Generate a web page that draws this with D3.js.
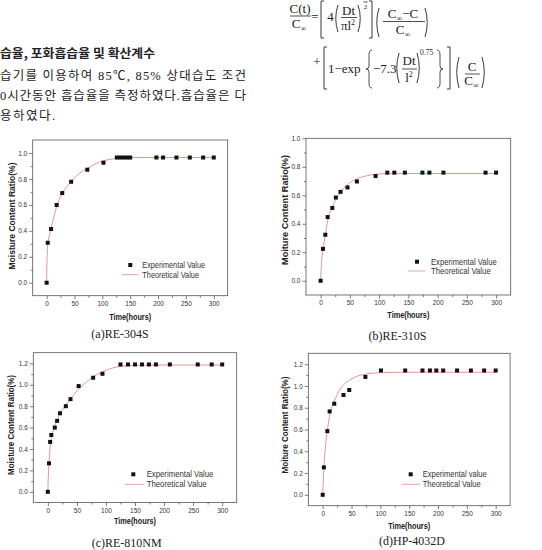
<!DOCTYPE html>
<html>
<head>
<meta charset="utf-8">
<script src="https://cdn.jsdelivr.net/npm/d3@7"></script>
<style>
  body { margin: 0; background: #fff; }
  svg { display: block; }
</style>
</head>
<body>
<svg id="page" width="542" height="550"></svg>
<script>
var timesA  = [0, 2, 8, 18, 28, 44, 73, 102, 126, 132, 138, 144, 150, 197, 209, 233, 257, 281, 300];
var valuesA = [0, 0.308, 0.414, 0.599, 0.691, 0.778, 0.871, 0.925, 0.965, 0.965, 0.965, 0.965, 0.965, 0.965, 0.965, 0.965, 0.965, 0.965, 0.965];
var curveTA = [0, 0.5, 1, 2, 4, 8, 12, 18, 28, 36, 44, 55, 73, 90, 102, 120, 140, 160, 300];
var curveVA = [0, 0.15, 0.21, 0.3, 0.345, 0.42, 0.49, 0.585, 0.69, 0.74, 0.78, 0.83, 0.88, 0.92, 0.94, 0.955, 0.962, 0.965, 0.965];

var timesB  = [0, 4, 8, 12, 20, 26, 34, 46, 62, 94, 114, 126, 144, 174, 186, 210, 282, 300];
var valuesB = [0, 0.224, 0.323, 0.447, 0.511, 0.584, 0.624, 0.655, 0.697, 0.735, 0.759, 0.759, 0.759, 0.759, 0.759, 0.759, 0.759, 0.759];
var curveTB = [0, 1, 2, 4, 8, 12, 20, 26, 34, 46, 62, 80, 95, 115, 150, 300];
var curveVB = [0, 0.09, 0.15, 0.22, 0.32, 0.42, 0.52, 0.57, 0.62, 0.675, 0.715, 0.738, 0.748, 0.752, 0.753, 0.753];

var timesC  = [0, 2, 4, 6, 12, 16, 21, 31, 39, 53, 78, 94, 125, 138, 150, 162, 174, 186, 210, 258, 282, 300];
var valuesC = [0, 0.266, 0.466, 0.531, 0.6, 0.663, 0.734, 0.8, 0.866, 0.988, 1.066, 1.103, 1.19, 1.19, 1.19, 1.19, 1.19, 1.19, 1.19, 1.19, 1.19, 1.19];
var curveTC = [0, 1, 2, 4, 6, 9, 12, 16, 21, 31, 39, 53, 65, 78, 94, 110, 125, 150, 200, 300];
var curveVC = [0, 0.17, 0.27, 0.42, 0.51, 0.57, 0.62, 0.67, 0.73, 0.81, 0.87, 0.96, 1.02, 1.075, 1.12, 1.155, 1.172, 1.182, 1.185, 1.185];

var timesD  = [0, 2, 8, 12, 20, 36, 46, 74, 101, 143, 173, 186, 197, 209, 233, 257, 280, 300];
var valuesD = [0, 0.252, 0.585, 0.766, 0.837, 0.917, 0.963, 1.083, 1.142, 1.142, 1.142, 1.142, 1.142, 1.142, 1.142, 1.142, 1.142, 1.142];
var curveTD = [0, 1, 2, 4, 6, 8, 12, 16, 20, 25, 30, 36, 46, 60, 74, 100, 150, 300];
var curveVD = [0, 0.13, 0.25, 0.4, 0.5, 0.585, 0.73, 0.81, 0.86, 0.92, 0.97, 1.01, 1.05, 1.09, 1.108, 1.122, 1.126, 1.126];

// tick values
var xMajor = [0, 50, 100, 150, 200, 250, 300];
var xMinor = [25, 75, 125, 175, 225, 275];
var yMajorA = [0, 0.2, 0.4, 0.6, 0.8, 1.0];
var yMajorC = [0, 0.2, 0.4, 0.6, 0.8, 1.0, 1.2];

var svg = d3.select("#page");
var sans = "'Liberation Sans', Arial, sans-serif";
var serif = "'Liberation Serif', 'Times New Roman', serif";

// ---------- Korean body text (top left) ----------
var body = svg.append("g").attr("fill", "#222");

body.append("text").attr("x", 0).attr("y", 58)
  .attr("font-family", "'Noto Sans CJK KR'").attr("font-weight", "bold").attr("font-size", 12)
  .attr("textLength", 155).attr("lengthAdjust", "spacingAndGlyphs")
  .text("습율, 포화흡습율 및 확산계수");

var bodyLines = [
  {text: "습기를 이용하여 85℃, 85% 상대습도 조건", y: 79.5, w: 246},
  {text: "0시간동안 흡습율을 측정하였다.흡습율은 다", y: 99.5, w: 246},
  {text: " 용하였다.", y: 119.5, w: 55}
];
bodyLines.forEach(function (l) {
  body.append("text").attr("x", 0).attr("y", l.y)
    .attr("font-family", "'Liberation Serif', 'Noto Sans CJK KR'").attr("font-size", 12.5)
    .attr("textLength", l.w).attr("lengthAdjust", "spacing")
    .text(l.text);
});

// ---------- equation (top right) ----------
var eq = svg.append("g").attr("fill", "#222").attr("font-family", serif).attr("font-size", 13);

function eqText(x, y, str, anchor, size) {
  var t = eq.append("text").attr("x", x).attr("y", y)
    .attr("text-anchor", anchor || "middle");
  if (size) t.attr("font-size", size);
  // "~" marks a subscript infinity, "^" a superscript 2
  var off = 0;
  str.split(/([~^])/).forEach(function (part) {
    if (part === "~") {
      t.append("tspan").attr("font-size", 8).attr("dy", 3 - off).text("∞");
      off = 3;
    } else if (part === "^") {
      t.append("tspan").attr("font-size", 8).attr("dy", -5 - off).text("2");
      off = -5;
    } else if (part.length) {
      t.append("tspan").attr("dy", -off).text(part);
      off = 0;
    }
  });
  return t;
}
function bar(x1, x2, y) {
  eq.append("line").attr("x1", x1).attr("x2", x2).attr("y1", y).attr("y2", y)
    .attr("stroke", "#222").attr("stroke-width", 0.8);
}
function paren(x, y1, y2, open) {
  var k = open ? 1 : -1, m = (y1 + y2) / 2;
  eq.append("path")
    .attr("d", "M" + (x + 2 * k) + "," + y1 + "Q" + (x - 2.5 * k) + "," + m + " " + (x + 2 * k) + "," + y2)
    .attr("fill", "none").attr("stroke", "#222").attr("stroke-width", 0.9);
}
function bracket(x, y1, y2, open) {
  var k = open ? 3 : -3;
  eq.append("path")
    .attr("d", "M" + (x + k) + "," + y1 + "H" + x + "V" + y2 + "H" + (x + k))
    .attr("fill", "none").attr("stroke", "#222").attr("stroke-width", 0.9);
}
function brace(x, y1, y2, open) {
  var k = open ? 1 : -1, m = (y1 + y2) / 2;
  eq.append("path")
    .attr("d", "M" + (x + 3 * k) + "," + y1 + "Q" + x + "," + y1 + " " + x + "," + (y1 + 5) +
      "V" + (m - 3) + "Q" + x + "," + m + " " + (x - 3 * k) + "," + m +
      "Q" + x + "," + m + " " + x + "," + (m + 3) +
      "V" + (y2 - 5) + "Q" + x + "," + y2 + " " + (x + 3 * k) + "," + y2)
    .attr("fill", "none").attr("stroke", "#222").attr("stroke-width", 0.8);
}

// first line
eqText(300, 12.5, "C(t)");
bar(290, 311, 16);
eqText(299, 27.5, "C~");
eqText(315, 20.5, "=");
bracket(321, 1, 38, true);
eqText(330.5, 21, "4");
paren(336, 5, 32, true);
eqText(348.5, 14.5, "Dt");
bar(341, 357, 17.5);
eqText(348, 29.5, "πl^");
paren(360, 5, 32, false);
bar(363.5, 367.5, 2);
eqText(365.5, 8.5, "2", "middle", 7);
bracket(372, 1, 38, false);
paren(377, 8, 37, true);
eqText(403, 17.5, "C~−C");
bar(383, 425, 21.5);
eqText(403, 33.5, "C~");
paren(427, 8, 37, false);

// second line
eqText(317, 66, "+");
bracket(324, 47, 89, true);
eqText(328, 72.5, "1−exp", "start");
brace(369, 50, 88, true);
eqText(373, 72.5, "−7.3", "start");
paren(397, 53, 83, true);
eqText(409, 65, "Dt");
bar(402, 417, 69);
eqText(409, 82, "l^");
paren(419, 53, 83, false);
eqText(420, 55, "0.75", "start", 7.5);
brace(440, 50, 88, false);
bracket(450, 47, 89, false);
paren(457, 57, 88, true);
eqText(472, 70.5, "C");
bar(465, 480, 74);
eqText(471.5, 85, "C~");
paren(484, 57, 88, false);

// ---------- the four panels ----------
var panels = [
  {times: timesA, values: valuesA, curveT: curveTA, curveV: curveVA,
   box: [32.7, 140, 227.7, 295.7], yDom: [-0.1, 1.1], yMajor: yMajorA,
   yLabel: "Moisture Content Ratio(%)", yLabelPos: [11.7, 216], yLabelLen: 107,
   xLabelY: 319.5, caption: "(a)RE-304S", capPos: [120, 338],
   legend: {sq: [130.3, 265], line: [121.7, 138.3, 274.7], tx: 142.3, w: [62.7, 56.7], exp: "Experimental Value"}},
  {times: timesB, values: valuesB, curveT: curveTB, curveV: curveVB,
   box: [306, 138.3, 510.7, 295], yDom: [-0.1, 1.0], yMajor: yMajorA,
   yLabel: "Moiture Content Ratio(%)", yLabelPos: [285, 210], yLabelLen: 110,
   xLabelY: 317.5, caption: "(b)RE-310S", capPos: [397.5, 340],
   legend: {sq: [417, 261.7], line: [408.3, 425, 271], tx: 431, w: [65.7, 59.7], exp: "Experimental Value"}},
  {times: timesC, values: valuesC, curveT: curveTC, curveV: curveVC,
   box: [33.3, 352.7, 236.7, 502.5], yDom: [-0.1, 1.3], yMajor: yMajorC,
   yLabel: "Moisture Content Ratio(%)", yLabelPos: [10.7, 425], yLabelLen: 100,
   xLabelY: 523.5, caption: "(c)RE-810NM", capPos: [126.7, 547],
   legend: {sq: [133.3, 474.3], line: [125, 144.3, 484.3], tx: 146.7, w: [66.7, 60], exp: "Experimental Value"}},
  {times: timesD, values: valuesD, curveT: curveTD, curveV: curveVD,
   box: [308.3, 353.3, 510.1, 505.7], yDom: [-0.1, 1.3], yMajor: yMajorC,
   yLabel: "Moiture Content Ratio(%)", yLabelPos: [285, 425], yLabelLen: 97,
   xLabelY: 529, caption: "(d)HP-4032D", capPos: [412, 545],
   legend: {sq: [410.7, 474.3], line: [401.7, 420, 484.3], tx: 422.7, w: [64, 58], exp: "Experimental value"}}
];

function drawPanel(p) {
  var g = svg.append("g");
  var x = d3.scaleLinear().domain([-25, 325]).range([p.box[0], p.box[2]]);
  var y = d3.scaleLinear().domain(p.yDom).range([p.box[3], p.box[1]]);

  // minor y ticks every 0.1 between the labelled ones
  var yMinor = p.yMajor.map(function (v) { return v + 0.1; })
    .filter(function (v) { return v < p.yDom[1] - 0.01; });

  function styleAxis(a) {
    a.select(".domain").remove();
    a.attr("font-family", sans).attr("font-size", 6.5);
    a.selectAll("line").attr("stroke", "#444").attr("stroke-width", 0.7);
    a.selectAll("text").attr("fill", "#333");
  }

  g.append("g").attr("transform", "translate(0," + p.box[3] + ")")
    .call(d3.axisBottom(x).tickValues(xMajor).tickSize(3.5).tickPadding(2).tickFormat(d3.format("d")))
    .call(styleAxis);
  g.append("g").attr("transform", "translate(0," + p.box[3] + ")")
    .call(d3.axisBottom(x).tickValues(xMinor).tickSize(2).tickFormat(""))
    .call(styleAxis);
  g.append("g").attr("transform", "translate(" + p.box[0] + ",0)")
    .call(d3.axisLeft(y).tickValues(p.yMajor).tickSize(3.5).tickPadding(2).tickFormat(d3.format(".1f")))
    .call(styleAxis);
  g.append("g").attr("transform", "translate(" + p.box[0] + ",0)")
    .call(d3.axisLeft(y).tickValues(yMinor).tickSize(2).tickFormat(""))
    .call(styleAxis);

  // plot frame
  g.append("rect")
    .attr("x", p.box[0]).attr("y", p.box[1])
    .attr("width", p.box[2] - p.box[0]).attr("height", p.box[3] - p.box[1])
    .attr("fill", "none").attr("stroke", "#555").attr("stroke-width", 0.8);

  // theoretical curve
  var line = d3.line()
    .x(function (d, i) { return x(p.curveT[i]); })
    .y(function (d) { return y(d); })
    .curve(d3.curveMonotoneX);
  g.append("path").datum(p.curveV)
    .attr("d", line)
    .attr("fill", "none").attr("stroke", "#e07878").attr("stroke-width", 0.8);

  // experimental points
  g.selectAll("rect.pt").data(p.values).enter()
    .append("rect").attr("class", "pt")
    .attr("x", function (d, i) { return x(p.times[i]) - 2; })
    .attr("y", function (d) { return y(d) - 2; })
    .attr("width", 4).attr("height", 4)
    .attr("fill", "#111");

  // legend
  var L = p.legend;
  g.append("rect").attr("x", L.sq[0] - 2).attr("y", L.sq[1] - 2)
    .attr("width", 4).attr("height", 4).attr("fill", "#111");
  g.append("text").attr("x", L.tx).attr("y", L.sq[1] + 3)
    .attr("font-family", sans).attr("font-size", 8.5).attr("fill", "#333")
    .attr("textLength", L.w[0]).attr("lengthAdjust", "spacingAndGlyphs")
    .text(L.exp);
  g.append("line").attr("x1", L.line[0]).attr("x2", L.line[1])
    .attr("y1", L.line[2]).attr("y2", L.line[2])
    .attr("stroke", "#e07878").attr("stroke-width", 0.7);
  g.append("text").attr("x", L.tx).attr("y", L.line[2] + 3)
    .attr("font-family", sans).attr("font-size", 8.5).attr("fill", "#333")
    .attr("textLength", L.w[1]).attr("lengthAdjust", "spacingAndGlyphs")
    .text("Theoretical Value");

  // axis titles
  g.append("text")
    .attr("x", (p.box[0] + p.box[2]) / 2).attr("y", p.xLabelY)
    .attr("text-anchor", "middle").attr("font-family", sans).attr("font-weight", "bold")
    .attr("font-size", 8.5).attr("fill", "#222")
    .attr("textLength", 42).attr("lengthAdjust", "spacingAndGlyphs")
    .text("Time(hours)");
  g.append("text")
    .attr("transform", "translate(" + p.yLabelPos[0] + "," + p.yLabelPos[1] + ") rotate(-90)")
    .attr("dy", "0.35em")
    .attr("text-anchor", "middle").attr("font-family", sans).attr("font-weight", "bold")
    .attr("font-size", 8.5).attr("fill", "#222")
    .attr("textLength", p.yLabelLen).attr("lengthAdjust", "spacingAndGlyphs")
    .text(p.yLabel);

  // caption under the panel
  g.append("text")
    .attr("x", p.capPos[0]).attr("y", p.capPos[1])
    .attr("text-anchor", "middle").attr("font-family", serif)
    .attr("font-size", 12).attr("fill", "#222")
    .text(p.caption);
}

panels.forEach(drawPanel);
</script>
</body>
</html>
